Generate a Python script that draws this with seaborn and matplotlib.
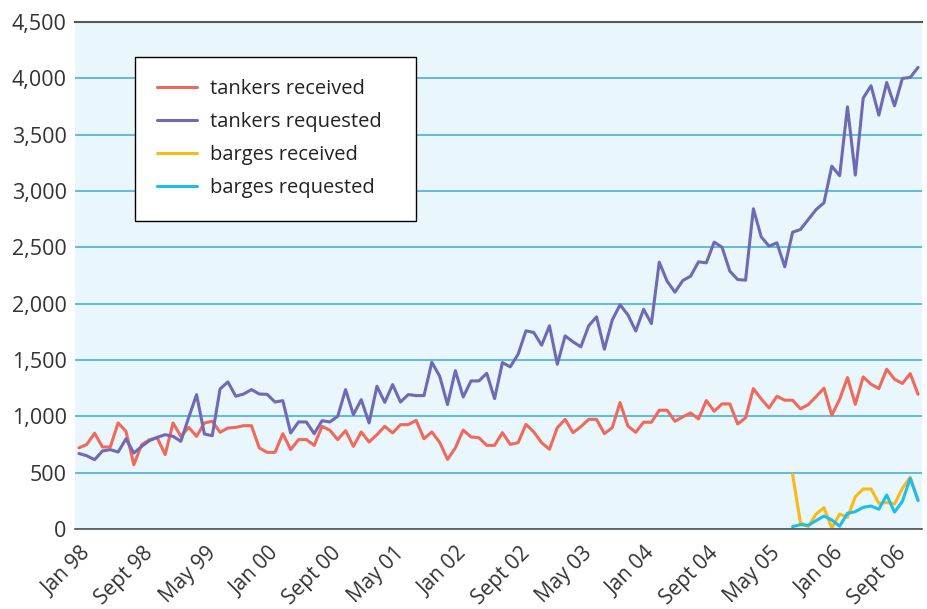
import matplotlib
matplotlib.use("Agg")
import matplotlib.pyplot as plt
import matplotlib.ticker as mticker
import matplotlib.transforms as mtransforms
import seaborn as sns
import pandas as pd
import numpy as np

# monthly values, Jan 98 .. Dec 06
tankers_requested = [670, 650, 615, 692, 704, 683, 800, 674, 733, 784, 814, 837,
                     822, 778, 990, 1192, 843, 828, 1243, 1305, 1178, 1198, 1237, 1198,
                     1195, 1127, 1139, 852, 950, 950, 846, 961, 950, 1000, 1237, 1015,
                     1148, 941, 1267, 1124, 1282, 1127, 1193, 1184, 1184, 1480, 1356, 1105,
                     1405, 1172, 1314, 1314, 1382, 1157, 1477, 1439, 1551, 1759, 1744, 1631,
                     1803, 1462, 1714, 1661, 1617, 1803, 1883, 1596, 1854, 1990, 1901, 1757,
                     1950, 1823, 2368, 2199, 2102, 2205, 2244, 2371, 2362, 2546, 2501, 2288,
                     2214, 2208, 2842, 2593, 2510, 2540, 2327, 2634, 2658, 2747, 2835, 2895,
                     3220, 3135, 3747, 3141, 3824, 3934, 3673, 3963, 3756, 3999, 4008, 4097]
tankers_received = [720, 750, 850, 728, 728, 941, 867, 570, 748, 793, 808, 660,
                    941, 822, 902, 822, 941, 956, 858, 896, 902, 917, 917, 719,
                    680, 680, 846, 704, 793, 793, 742, 911, 876, 793, 873, 733,
                    861, 772, 837, 911, 852, 926, 926, 964, 801, 861, 769, 617,
                    720, 878, 816, 810, 742, 742, 855, 751, 766, 929, 861, 766,
                    707, 899, 973, 855, 908, 973, 973, 846, 899, 1122, 914, 858,
                    948, 947, 1054, 1054, 956, 995, 1030, 977, 1140, 1045, 1110, 1110,
                    932, 986, 1246, 1154, 1074, 1178, 1143, 1143, 1066, 1104, 1175, 1250,
                    1010, 1151, 1344, 1107, 1350, 1285, 1246, 1418, 1329, 1291, 1379, 1196]
# barges only reported from Aug 05
barges_received = [485, 56, 21, 133, 189, 8, 133, 104, 287, 355, 355, 228, 234, 222, 361, 459, 258]
barges_requested = [21, 38, 33, 74, 115, 80, 25, 139, 154, 192, 204, 175, 302, 150, 245, 450, 252]

tick_labels = ['Jan 98', 'Sept 98', 'May 99', 'Jan 00', 'Sept 00', 'May 01', 'Jan 02',
               'Sept 02', 'May 03', 'Jan 04', 'Sept 04', 'May 05', 'Jan 06', 'Sept 06']

n = len(tankers_requested)
pad = [np.nan] * (n - len(barges_received))
month = np.arange(n) + 0.5

series = {
    'tankers received': tankers_received,
    'tankers requested': tankers_requested,
    'barges received': pad + barges_received,
    'barges requested': pad + barges_requested,
}
df = pd.concat([pd.DataFrame({'month': month, 'value': v, 'series': k})
                for k, v in series.items()], ignore_index=True)

colors = ['#f0695a', '#6e6ab3', '#fdb913', '#1ebdec']

sns.set_style('white')
plt.rcParams['font.family'] = ['Open Sans', 'DejaVu Sans']

fig = plt.figure(figsize=(9.27, 6.09), dpi=100)
ax = fig.add_axes([0.0809, 0.1314, 0.9137, 0.8325])
ax.set_facecolor('#e9f6fc')

sns.lineplot(data=df, x='month', y='value', hue='series',
             hue_order=list(series.keys()), palette=colors,
             linewidth=2.2, ax=ax)

ax.set_xlim(0, 108)
ax.set_ylim(0, 4500)

# gridlines
ax.yaxis.set_major_locator(mticker.MultipleLocator(500))
ax.yaxis.set_major_formatter(mticker.FuncFormatter(lambda v, p: f'{int(v):,}'))
ax.grid(axis='y', color='#55b4e3', linewidth=1.3)
ax.grid(axis='x', visible=False)
ax.set_axisbelow(True)

# x ticks: long every 4 months, short every 2, labels every 8
ax.set_xticks(np.arange(0, 109, 4))
ax.set_xticklabels([tick_labels[i // 8] if i % 8 == 0 and i // 8 < len(tick_labels) else ''
                    for i in range(0, 109, 4)])
ax.set_xticks(np.arange(2, 108, 4), minor=True)
ax.tick_params(axis='x', which='major', length=8, width=1.2, color='#555555',
               direction='out', pad=2, labelsize=15, labelcolor='#333333')
ax.tick_params(axis='x', which='minor', length=4, width=1.2, color='#555555',
               direction='out')
shift = mtransforms.ScaledTranslation(5 / 100, 0, fig.dpi_scale_trans)
for lab in ax.get_xticklabels():
    lab.set_rotation(45)
    lab.set_ha('right')
    lab.set_rotation_mode('anchor')
    lab.set_transform(lab.get_transform() + shift)
ax.tick_params(axis='y', length=0, pad=6, labelsize=15.5, labelcolor='#333333')

for s in ['left', 'right']:
    ax.spines[s].set_visible(False)
ax.spines['top'].set_color('#555555')
ax.spines['top'].set_linewidth(1.5)
ax.spines['bottom'].set_color('#555555')
ax.spines['bottom'].set_linewidth(1.2)

ax.set_xlabel('')
ax.set_ylabel('')

handles, labels = ax.get_legend_handles_labels()
leg = ax.legend(handles, labels, loc='upper left',
                bbox_to_anchor=(0.0708, 0.6253, 0.3318, 0.3057), mode='expand',
                borderaxespad=0, fontsize=14.5, frameon=True, fancybox=False,
                handlelength=2.0, handletextpad=0.65, labelspacing=0.65,
                borderpad=1.1)
leg.get_frame().set_edgecolor('black')
leg.get_frame().set_linewidth(1.0)
leg.get_frame().set_facecolor('white')
leg.get_frame().set_alpha(1)
for t in leg.get_texts():
    t.set_color('#222222')

plt.savefig('out.png', dpi=100)
